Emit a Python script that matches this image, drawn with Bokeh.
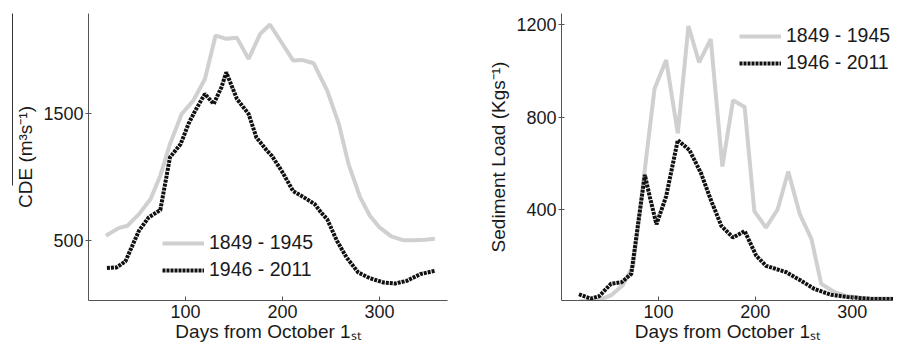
from bokeh.plotting import figure
from bokeh.layouts import row
from bokeh.models import Range1d, FixedTicker, Legend, LegendItem, LinearAxis
from bokeh.embed import file_html
from bokeh.resources import INLINE

# ---- data ----
cde_early_days = [18, 31, 40, 52, 64, 74, 84, 96, 108, 120, 131, 142, 153, 165, 177, 187,
                  211, 220, 232, 246, 258, 268, 280, 290, 300, 312, 324, 336, 347, 357]
cde_early_vals = [539, 600, 618, 710, 829, 1013, 1263, 1500, 1605, 1776, 2118, 2092, 2100, 1934, 2131, 2205,
                  1921, 1926, 1900, 1684, 1421, 1105, 842, 697, 605, 534, 505, 505, 508, 516]

cde_late_days = [19, 29, 38, 52, 62, 74, 84, 95, 103, 110, 120, 129, 137, 142, 153, 165, 173, 184, 189,
                 199, 211, 222, 233, 240, 246, 256, 266, 278, 290, 304, 316, 328, 342, 357]
cde_late_vals = [285, 290, 337, 579, 684, 742, 1158, 1263, 1421, 1526, 1658, 1579, 1710, 1828, 1618, 1500, 1315, 1210, 1170,
                 1052, 890, 842, 790, 720, 670, 500, 368, 250, 205, 171, 163, 184, 237, 263]

sed_early_days = [18, 30, 40, 51, 63, 74, 96, 108, 120, 131, 142, 154, 166, 177, 189, 199, 211, 223, 234,
                  246, 258, 268, 282, 294, 313, 347, 360]
sed_early_vals = [5, 5, 12, 30, 73, 158, 923, 1047, 730, 1194, 1037, 1137, 587, 873, 844, 394, 323, 401, 565,
                  380, 273, 80, 44, 27, 18, 15, 15]

sed_late_days = [18, 30, 39, 51, 62, 72, 86, 91, 98, 108, 120, 132, 144, 154, 165, 177, 189, 201, 211,
                 232, 247, 261, 278, 295, 319, 360]
sed_late_vals = [35, 16, 27, 80, 87, 123, 551, 458, 337, 458, 701, 658, 558, 444, 330, 280, 308, 201, 158,
                 130, 94, 58, 33, 23, 15, 15]

series_labels = ["1849 - 1945", "1946 - 2011"]
x_ticks = [100, 200, 300]
cde_ticks = [500, 1500]
sed_ticks = [400, 800, 1200]
x_title = "Days from October 1\u209b\u209c"

FONT = "Liberation Sans"
GRAY = "#d0d0d0"
BLACK = "#111111"
TXT = "#1a1a1a"


def style(p, xt, yt, ylabel):
    p.outline_line_color = None
    p.xgrid.visible = False
    p.ygrid.visible = False
    p.background_fill_color = "white"
    p.border_fill_color = "white"
    p.xaxis.ticker = FixedTicker(ticks=xt, minor_ticks=[])
    p.yaxis.ticker = FixedTicker(ticks=yt, minor_ticks=[])
    for ax in (p.xaxis, p.yaxis):
        ax.axis_line_color = "#555555"
        ax.major_tick_line_color = "#555555"
        ax.minor_tick_line_color = None
        ax.major_label_text_font = FONT
        ax.major_label_text_font_size = "18px"
        ax.major_label_text_color = TXT
        ax.axis_label_text_font = FONT
        ax.axis_label_text_font_size = "19px"
        ax.axis_label_text_font_style = "normal"
        ax.axis_label_text_color = TXT
    p.xaxis.major_tick_in = 4
    p.xaxis.major_tick_out = 0
    p.xaxis.major_label_standoff = 4
    p.xaxis.axis_label_standoff = 0
    p.xaxis.axis_label = x_title
    p.yaxis.major_tick_in = 3
    p.yaxis.major_tick_out = 3
    p.yaxis.major_label_standoff = 2
    p.yaxis.axis_label_standoff = 4
    p.yaxis.axis_label = ylabel


def add_legend(p, r1, r2, loc):
    leg = Legend(items=[LegendItem(label=series_labels[0], renderers=[r1]),
                        LegendItem(label=series_labels[1], renderers=[r2])],
                 location=loc)
    leg.label_text_font = FONT
    leg.label_text_font_size = "19.5px"
    leg.label_text_color = TXT
    leg.padding = 4
    leg.spacing = 4
    leg.margin = 0
    leg.glyph_height = 22
    leg.label_height = 22
    leg.glyph_width = 42
    leg.label_standoff = 5
    leg.border_line_color = None
    leg.background_fill_color = "white"
    leg.background_fill_alpha = 1.0
    p.add_layout(leg)


# ---- left: CDE ----
p1 = figure(width=470, height=345, x_range=Range1d(0, 370), y_range=Range1d(29, 2292),
            output_backend="svg", toolbar_location=None,
            min_border_left=88, min_border_right=23, min_border_top=13, min_border_bottom=45)
style(p1, x_ticks, cde_ticks, "CDE (m\u00b3s\u207b\u00b9)")
a1 = p1.line(cde_early_days, cde_early_vals, line_color=GRAY, line_width=4)
b1 = p1.line(cde_late_days, cde_late_vals, line_color=BLACK, line_width=4, line_dash="3 1")
add_legend(p1, a1, b1, (74, 19))
# the bar drawn over the y title in the reference
bar_axis = LinearAxis(ticker=FixedTicker(ticks=[]), bounds=(937, 2292),
                      axis_line_color="#333333", major_tick_line_color=None,
                      minor_tick_line_color=None, major_label_text_font_size="0px")
p1.add_layout(bar_axis, "left")

# ---- right: Sediment load ----
p2 = figure(width=423, height=345, x_range=Range1d(0, 342.6), y_range=Range1d(8, 1248),
            output_backend="svg", toolbar_location=None,
            min_border_left=91, min_border_right=0, min_border_top=13, min_border_bottom=45)
style(p2, x_ticks, sed_ticks, "Sediment Load (Kgs\u207b\u00b9)")
a2 = p2.line(sed_early_days, sed_early_vals, line_color=GRAY, line_width=4)
b2 = p2.line(sed_late_days, sed_late_vals, line_color=BLACK, line_width=4, line_dash="3 1")
add_legend(p2, a2, b2, (178, 226))

layout = row(p1, p2)
open("out.html", "w").write(file_html(layout, INLINE))
